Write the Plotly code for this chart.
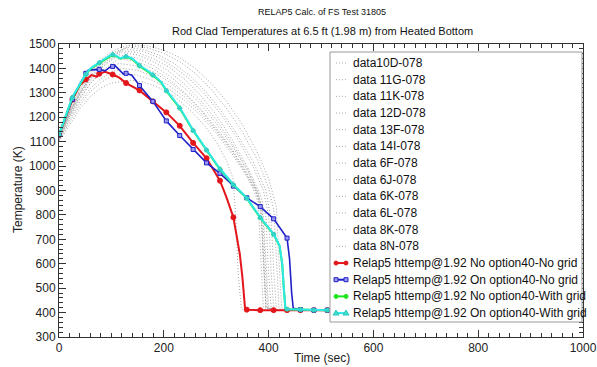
import numpy as np
import plotly.graph_objects as go

# ---------------- data ----------------
DATA_NAMES = ["data10D-078", "data 11G-078", "data 11K-078", "data 12D-078",
              "data 13F-078", "data 14I-078", "data 6F-078", "data 6J-078",
              "data 6K-078", "data 6L-078", "data 8K-078", "data 8N-078"]

D10D_T = [0, 20, 40, 60, 80, 100, 120, 140, 170, 200, 230, 260, 290, 320, 350, 380, 400, 415, 420, 425, 440]
D10D_K = [1120, 1225, 1315, 1385, 1435, 1468, 1488, 1497, 1492, 1475, 1445, 1400, 1340, 1265, 1170, 1050, 950, 830, 600, 420, 410]
D11G_T = [0, 20, 40, 60, 80, 100, 135, 170, 200, 230, 260, 290, 320, 350, 380, 400, 410, 415, 420, 440]
D11G_K = [1115, 1220, 1310, 1378, 1428, 1460, 1492, 1484, 1462, 1428, 1380, 1315, 1235, 1140, 1020, 910, 820, 600, 415, 410]
D11K_T = [0, 20, 40, 60, 80, 100, 130, 160, 190, 220, 250, 280, 310, 340, 370, 395, 405, 410, 415, 430]
D11K_K = [1118, 1215, 1300, 1370, 1420, 1455, 1486, 1478, 1455, 1420, 1370, 1305, 1225, 1130, 1020, 900, 780, 560, 412, 410]
D12D_T = [0, 20, 40, 60, 80, 100, 125, 160, 190, 220, 250, 280, 310, 340, 370, 390, 400, 405, 410, 430]
D12D_K = [1110, 1210, 1295, 1362, 1412, 1448, 1480, 1470, 1445, 1405, 1355, 1290, 1210, 1115, 1000, 900, 800, 560, 412, 408]
D13F_T = [0, 20, 40, 60, 80, 100, 120, 150, 180, 210, 240, 270, 300, 330, 360, 385, 395, 400, 405, 420]
D13F_K = [1125, 1218, 1300, 1365, 1410, 1445, 1472, 1465, 1440, 1405, 1355, 1290, 1210, 1110, 995, 880, 790, 560, 415, 410]
D14I_T = [0, 20, 40, 60, 80, 100, 120, 150, 180, 210, 240, 270, 300, 330, 360, 380, 390, 395, 400, 420]
D14I_K = [1112, 1205, 1288, 1352, 1400, 1438, 1465, 1455, 1428, 1388, 1335, 1270, 1190, 1095, 985, 890, 800, 600, 418, 410]
D6F_T = [0, 20, 40, 60, 80, 100, 115, 150, 180, 210, 240, 270, 300, 330, 360, 380, 388, 393, 398, 420]
D6F_K = [1128, 1220, 1298, 1358, 1402, 1435, 1455, 1442, 1412, 1370, 1318, 1255, 1175, 1085, 980, 890, 820, 600, 420, 410]
D6J_T = [0, 20, 40, 60, 80, 100, 115, 150, 180, 210, 240, 270, 300, 330, 355, 375, 385, 390, 395, 420]
D6J_K = [1105, 1195, 1275, 1338, 1385, 1420, 1440, 1428, 1398, 1355, 1300, 1235, 1158, 1070, 985, 905, 840, 600, 420, 410]
D6K_T = [0, 20, 40, 60, 80, 100, 115, 150, 180, 210, 240, 270, 300, 330, 355, 375, 385, 390, 395, 420]
D6K_K = [1120, 1205, 1280, 1340, 1380, 1408, 1420, 1410, 1385, 1345, 1295, 1230, 1150, 1065, 980, 900, 830, 600, 420, 410]
D6L_T = [0, 20, 40, 60, 80, 100, 120, 150, 180, 210, 240, 270, 300, 330, 355, 375, 385, 390, 395, 420]
D6L_K = [1108, 1190, 1262, 1318, 1358, 1385, 1400, 1392, 1368, 1330, 1282, 1220, 1145, 1060, 975, 900, 835, 600, 420, 410]
D8K_T = [0, 20, 40, 60, 80, 100, 125, 150, 180, 210, 240, 270, 300, 330, 350, 370, 380, 385, 390, 420]
D8K_K = [1102, 1180, 1250, 1305, 1342, 1368, 1378, 1372, 1350, 1315, 1268, 1208, 1135, 1050, 985, 910, 850, 600, 420, 410]
D8N_T = [0, 20, 40, 60, 80, 100, 135, 160, 190, 220, 250, 280, 300, 320, 332, 337, 342, 348, 360]
D8N_K = [1100, 1170, 1235, 1285, 1320, 1340, 1352, 1345, 1322, 1285, 1230, 1160, 1100, 1020, 950, 800, 560, 415, 410]

DATA_T = [D10D_T, D11G_T, D11K_T, D12D_T, D13F_T, D14I_T, D6F_T, D6J_T, D6K_T, D6L_T, D8K_T, D8N_T]
DATA_K = [D10D_K, D11G_K, D11K_K, D12D_K, D13F_K, D14I_K, D6F_K, D6J_K, D6K_K, D6L_K, D8K_K, D8N_K]

RELAP_NAMES = ["Relap5 httemp@1.92 No option40-No grid",
               "Relap5 httemp@1.92 On option40-No grid",
               "Relap5 httemp@1.92 No option40-With grid",
               "Relap5 httemp@1.92 On option40-With grid"]

# times at which the calculation curves carry a marker
MARK_T = [0, 25.6, 51.2, 76.8, 102.4, 128, 153.6, 179.2, 204.8, 230.4, 256, 281.6,
          307.2, 332.8, 358.4, 384, 409.6, 435.2, 460.8, 486.4, 512, 537.6]

RED_T = [0, 25.6, 40, 51.2, 62, 72, 76.8, 88, 102.4, 115, 128, 153.6, 179.2, 204.8, 230.4,
         256, 281.6, 307.2, 320, 332.8, 345, 350, 355, 358.4, 384, 409.6, 435.2, 460.8,
         486.4, 512, 537.6]
RED_K = [1128, 1272, 1332, 1355, 1373, 1366, 1378, 1386, 1375, 1362, 1340, 1310, 1265, 1220, 1165,
         1095, 1032, 940, 870, 790, 640, 545, 418, 412, 410, 410, 410, 410,
         410, 410, 410]

BLUE_T = [0, 25.6, 40, 51.2, 56, 76.8, 88, 97, 102.4, 107, 123, 128, 139, 153.6, 179.2, 204.8,
          230.4, 256, 281.6, 307.2, 332.8, 358.4, 384, 409.6, 435.2, 440, 444, 447, 460.8,
          486.4, 512, 537.6]
BLUE_K = [1128, 1274, 1338, 1380, 1393, 1396, 1390, 1405, 1408, 1411, 1377, 1380, 1372, 1330, 1265, 1185,
          1125, 1068, 1013, 970, 918, 870, 834, 784, 705, 620, 480, 418, 412,
          410, 410, 410]

GREEN_T = [0, 25.6, 51.2, 60, 76.8, 88, 102.4, 110, 117, 128, 140, 153.6, 179.2, 195, 204.8,
           230.4, 256, 281.6, 307.2, 332.8, 358.4, 384, 409.6, 421, 426, 429, 432, 435.2,
           460.8, 486.4, 512, 537.6]
GREEN_K = [1128, 1281, 1375, 1398, 1422, 1438, 1455, 1448, 1440, 1448, 1437, 1410, 1372, 1342, 1308,
           1237, 1145, 1065, 987, 923, 868, 788, 720, 672, 598, 500, 418, 414,
           412, 410, 410, 410]

CYAN_T = [0, 25.6, 51.2, 60, 76.8, 88, 102.4, 110, 117, 128, 140, 153.6, 179.2, 195, 204.8,
          230.4, 256, 281.6, 307.2, 332.8, 358.4, 384, 409.6, 421, 426, 429, 432, 435.2,
          460.8, 486.4, 512, 537.6]
CYAN_K = [1128, 1283, 1377, 1400, 1425, 1440, 1459, 1450, 1441, 1451, 1440, 1414, 1375, 1345, 1311,
          1240, 1147, 1067, 989, 925, 870, 790, 722, 674, 600, 500, 418, 414,
          412, 410, 410, 410]

X_TICKS = [0, 200, 400, 600, 800, 1000]
Y_TICKS = [300, 400, 500, 600, 700, 800, 900, 1000, 1100, 1200, 1300, 1400, 1500]

# ---------------- styling ----------------
FONT = "Liberation Sans, Arial, sans-serif"
W, H = 597, 367
ML, MR, MT, MB = 59, 14, 44, 30
PW, PH = W - ML - MR, H - MT - MB


def fx(px):
    return (px - ML) / PW


def fy(py):
    return (H - MB - py) / PH


STYLES = [
    dict(color="#e3161b", width=2, symbol="circle", msize=5, mfill="#e3161b", mline="#e3161b"),
    dict(color="#2020c8", width=1.6, symbol="square", msize=4, mfill="#9a9af0", mline="#2020c8"),
    dict(color="#1ee61e", width=2, symbol="circle", msize=4, mfill="#30e0a0", mline="#30d8a0"),
    dict(color="#2ee8e8", width=2, symbol="triangle-up", msize=4, mfill="#40e0c8", mline="#2ec8c8"),
]
RELAP_T = [RED_T, BLUE_T, GREEN_T, CYAN_T]
RELAP_K = [RED_K, BLUE_K, GREEN_K, CYAN_K]

fig = go.Figure()

for name, t, k in zip(DATA_NAMES, DATA_T, DATA_K):
    fig.add_trace(go.Scatter(x=t, y=k, mode="lines", name=name, showlegend=False,
                             line=dict(color="#9a9a9a", width=0.9, dash="1px,2px")))

mark_set = np.round(np.array(MARK_T), 1)
for name, t, k, st in zip(RELAP_NAMES, RELAP_T, RELAP_K, STYLES):
    t = np.array(t, dtype=float)
    k = np.array(k, dtype=float)
    fig.add_trace(go.Scatter(x=t, y=k, mode="lines", name=name, showlegend=False,
                             line=dict(color=st["color"], width=st["width"])))
    m = np.isin(np.round(t, 1), mark_set)
    fig.add_trace(go.Scatter(x=t[m], y=k[m], mode="markers", name=name, showlegend=False,
                             marker=dict(symbol=st["symbol"], size=st["msize"], color=st["mfill"],
                                         line=dict(color=st["mline"], width=1))))

axis_common = dict(showline=True, linecolor="#333", linewidth=1, mirror="allticks",
                   ticks="inside", ticklen=7, tickcolor="#333", showgrid=False, zeroline=False,
                   tickfont=dict(family=FONT, size=12, color="#222"))
fig.update_xaxes(range=[0, 1000], tickvals=X_TICKS,
                 minor=dict(ticks="inside", dtick=20, ticklen=4, tickcolor="#333"), **axis_common)
fig.update_yaxes(range=[300, 1500], tickvals=Y_TICKS,
                 minor=dict(ticks="inside", dtick=20, ticklen=4, tickcolor="#333"), **axis_common)

# ---------- manual legend (box, symbols, labels) ----------
shapes = []
annotations = []
box_l, box_r, box_t, box_b = 330, 582, 52, 322
shapes.append(dict(type="rect", xref="paper", yref="paper", x0=fx(box_l), x1=fx(box_r),
                   y0=fy(box_b), y1=fy(box_t), line=dict(color="#999", width=1),
                   fillcolor="white", layer="above"))
row0, row_step = 63, 16.67
all_names = DATA_NAMES + RELAP_NAMES
for i, name in enumerate(all_names):
    yy = fy(row0 + i * row_step)
    if i < len(DATA_NAMES):
        shapes.append(dict(type="line", xref="paper", yref="paper", x0=fx(336), x1=fx(346),
                           y0=yy, y1=yy, line=dict(color="#aaa", width=1, dash="1px,2px"),
                           layer="above"))
    else:
        st = STYLES[i - len(DATA_NAMES)]
        shapes.append(dict(type="line", xref="paper", yref="paper", x0=fx(335), x1=fx(347),
                           y0=yy, y1=yy, line=dict(color=st["color"], width=2), layer="above"))
        for cx in (336, 346):
            if st["symbol"] == "circle":
                shapes.append(dict(type="circle", xref="paper", yref="paper",
                                   xsizemode="pixel", ysizemode="pixel",
                                   xanchor=fx(cx), yanchor=yy, x0=-2, x1=2, y0=-2, y1=2,
                                   fillcolor=st["color"], line=dict(color=st["color"], width=1),
                                   layer="above"))
            elif st["symbol"] == "square":
                shapes.append(dict(type="rect", xref="paper", yref="paper",
                                   xsizemode="pixel", ysizemode="pixel",
                                   xanchor=fx(cx), yanchor=yy, x0=-2, x1=2, y0=-2, y1=2,
                                   fillcolor=st["mfill"], line=dict(color=st["mline"], width=1),
                                   layer="above"))
            else:
                shapes.append(dict(type="path", xref="paper", yref="paper",
                                   xsizemode="pixel", ysizemode="pixel",
                                   xanchor=fx(cx), yanchor=yy,
                                   path="M -3,-2 L 3,-2 L 0,3 Z",
                                   fillcolor=st["mfill"], line=dict(color=st["mline"], width=1),
                                   layer="above"))
    annotations.append(dict(text=name, xref="paper", yref="paper", x=fx(351), y=yy,
                            xanchor="left", yanchor="middle", showarrow=False,
                            font=dict(family=FONT, size=12, color="#111")))

# titles
annotations.append(dict(text="RELAP5 Calc. of FS Test 31805", xref="paper", yref="paper",
                        x=fx(322), y=fy(12), xanchor="center", yanchor="middle", showarrow=False,
                        font=dict(family=FONT, size=9, color="#111")))
annotations.append(dict(text="Rod Clad Temperatures at 6.5 ft (1.98 m) from Heated Bottom",
                        xref="paper", yref="paper", x=fx(322), y=fy(31), xanchor="center",
                        yanchor="middle", showarrow=False,
                        font=dict(family=FONT, size=11, color="#111")))
annotations.append(dict(text="Time (sec)", xref="paper", yref="paper", x=fx(322), y=fy(358),
                        xanchor="center", yanchor="middle", showarrow=False,
                        font=dict(family=FONT, size=12, color="#222")))
annotations.append(dict(text="Temperature (K)", xref="paper", yref="paper", x=fx(18), y=fy(190),
                        xanchor="center", yanchor="middle", showarrow=False, textangle=-90,
                        font=dict(family=FONT, size=12, color="#222")))

fig.update_layout(width=W, height=H, margin=dict(l=ML, r=MR, t=MT, b=MB, autoexpand=False),
                  paper_bgcolor="white", plot_bgcolor="white", showlegend=False,
                  shapes=shapes, annotations=annotations, font=dict(family=FONT))

fig.write_html("out.html", config={"displayModeBar": False},
               post_script="document.body.style.margin='0px';document.body.style.padding='0px';")
